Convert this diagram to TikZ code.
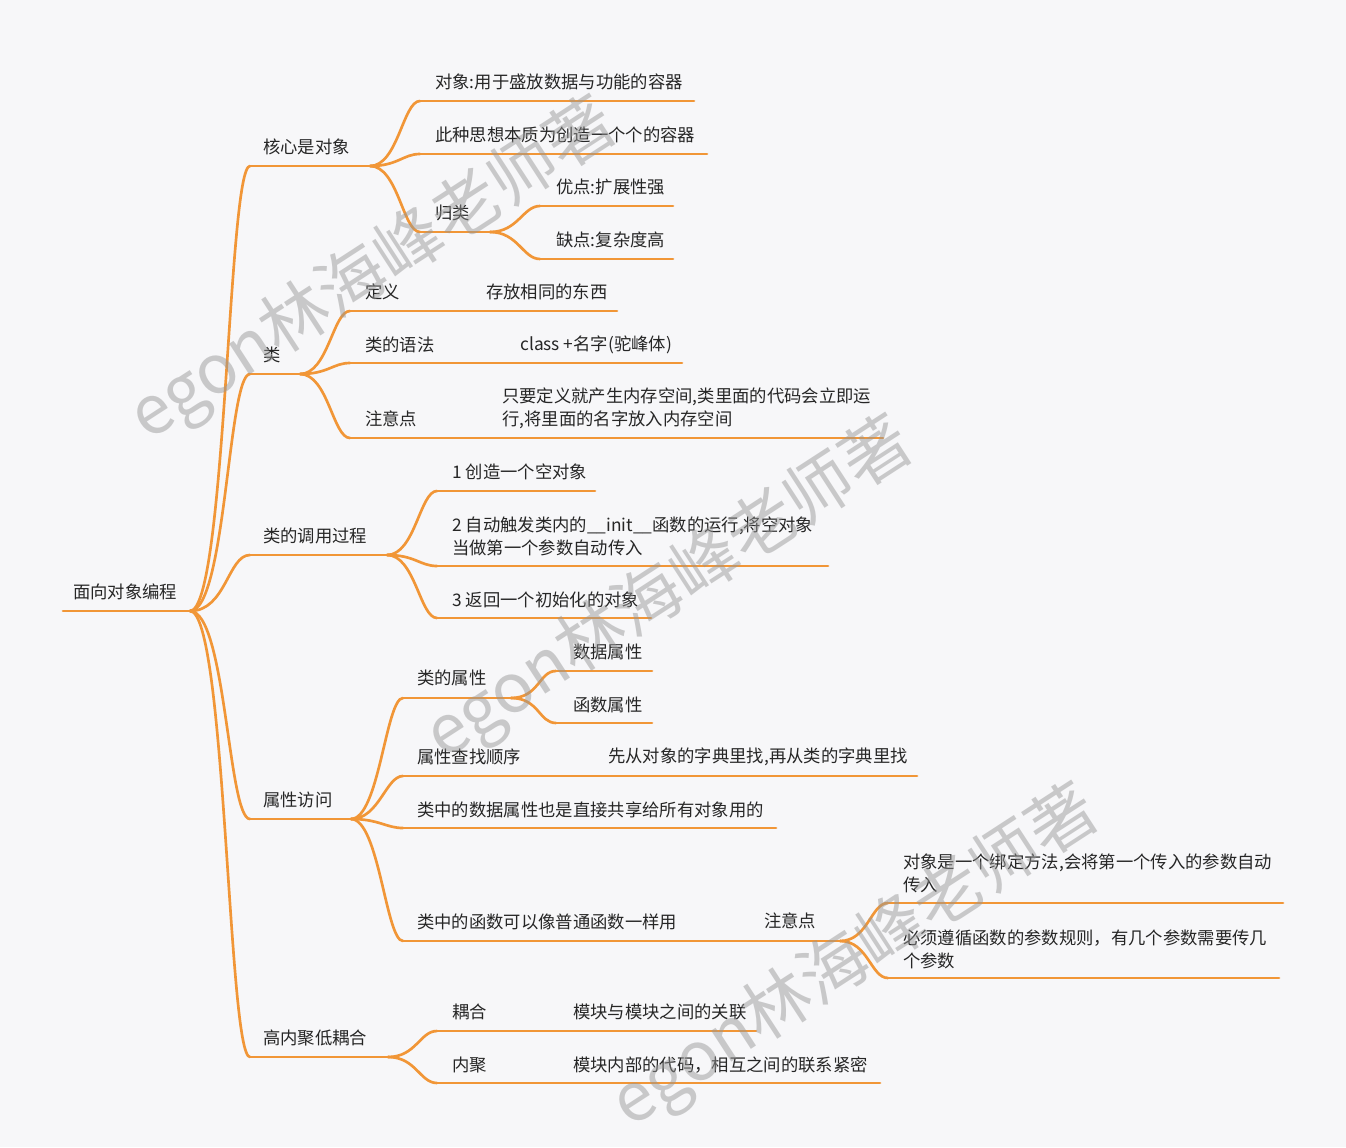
\documentclass[tikz,border=0pt]{standalone}
\usepackage{fontspec}
\setmainfont{Noto Sans CJK SC}
\definecolor{bg}{RGB}{247,247,249}
\definecolor{ln}{RGB}{241,150,55}
\definecolor{tx}{RGB}{38,38,38}
\definecolor{wm}{RGB}{150,150,150}
\newcommand\mmA[2]{\draw[line] (#1) .. controls +(36,0) and +(-22,0) .. (#2);}
\newcommand\mmB[2]{\draw[line] (#1) .. controls +(28,0) and +(-17,0) .. (#2);}
\begin{document}
\begin{tikzpicture}[x=0.75pt,y=-0.75pt,
  line/.style={draw=ln,line width=2pt,line cap=round},
  txt/.style={anchor=west,inner sep=0pt,text=tx,font=\fontsize{13}{17.25}\selectfont,align=left},
  wmark/.style={text=wm,opacity=0.48,font=\fontsize{51}{51}\selectfont,rotate=33,inner sep=0pt}]
\fill[bg] (0,0) rectangle (1346,1147);
\useasboundingbox (0,0) rectangle (1346,1147);

% root
\coordinate (R-s) at (63,611); \coordinate (R-e) at (190,611);
\node[txt] (R) at (73,592) {面向对象编程};
\draw[line] (R-s) -- (R-e);

% level 1
\coordinate (A-s) at (250,166); \coordinate (A-e) at (370,166);
\coordinate (B-s) at (250,374); \coordinate (B-e) at (300,374);
\coordinate (C-s) at (250,555); \coordinate (C-e) at (387,555);
\coordinate (D-s) at (250,819); \coordinate (D-e) at (351,819);
\coordinate (E-s) at (250,1057); \coordinate (E-e) at (388,1057);
\node[txt] (A) at (263,147) {核心是对象};
\node[txt] (B) at (263,355) {类};
\node[txt] (C) at (263,536) {类的调用过程};
\node[txt] (D) at (263,800) {属性访问};
\node[txt] (E) at (263,1038) {高内聚低耦合};
\foreach \n in {A,B,C,D,E}{\mmA{R-e}{\n-s}\draw[line] (\n-s) -- (\n-e);}

% A children
\coordinate (A1-s) at (420,101); \coordinate (A1-e) at (694,101);
\coordinate (A2-s) at (420,154); \coordinate (A2-e) at (707,154);
\coordinate (A3-s) at (420,232); \coordinate (A3-e) at (490,232);
\coordinate (A31-s) at (540,206); \coordinate (A31-e) at (673,206);
\coordinate (A32-s) at (540,259); \coordinate (A32-e) at (673,259);
\node[txt] (A1) at (435,82) {对象:用于盛放数据与功能的容器};
\node[txt] (A2) at (435,135) {此种思想本质为创造一个个的容器};
\node[txt] (A3) at (435,213) {归类};
\node[txt] (A31) at (556,187) {优点:扩展性强};
\node[txt] (A32) at (556,240) {缺点:复杂度高};
\foreach \n in {A1,A2,A3}{\mmB{A-e}{\n-s}\draw[line] (\n-s) -- (\n-e);}
\foreach \n in {A31,A32}{\mmB{A3-e}{\n-s}\draw[line] (\n-s) -- (\n-e);}

% B children
\coordinate (B1-s) at (350,311); \coordinate (B1-e) at (470,311);
\coordinate (B1a-s) at (470,311); \coordinate (B1a-e) at (617,311);
\coordinate (B2-s) at (350,363); \coordinate (B2-e) at (505,363);
\coordinate (B2a-s) at (505,363); \coordinate (B2a-e) at (682,363);
\coordinate (B3-s) at (350,438); \coordinate (B3-e) at (487,438);
\coordinate (B3a-s) at (487,438); \coordinate (B3a-e) at (883,438);
\node[txt] (B1) at (365,292) {定义};
\node[txt] (B1a) at (486,292) {存放相同的东西};
\node[txt] (B2) at (365,345) {类的语法};
\node[txt] (B2a) at (520,345) {class +名字(驼峰体)};
\node[txt] (B3) at (365,419) {注意点};
\node[txt] (B3a) at (502,408) {只要定义就产生内存空间,类里面的代码会立即运\\行,将里面的名字放入内存空间};
\foreach \n in {B1,B2,B3}{\mmB{B-e}{\n-s}\draw[line] (\n-s) -- (\n-e) -- (\n a-s) -- (\n a-e);}

% C children
\coordinate (C1-s) at (437,491); \coordinate (C1-e) at (595,491);
\coordinate (C2-s) at (437,566); \coordinate (C2-e) at (828,566);
\coordinate (C3-s) at (437,618); \coordinate (C3-e) at (651,618);
\node[txt] (C1) at (452,472) {1 创造一个空对象};
\node[txt] (C2) at (452,536) {2 自动触发类内的\_\_init\_\_函数的运行,将空对象\\当做第一个参数自动传入};
\node[txt] (C3) at (452,600) {3 返回一个初始化的对象};
\foreach \n in {C1,C2,C3}{\mmB{C-e}{\n-s}\draw[line] (\n-s) -- (\n-e);}

% D children
\coordinate (D1-s) at (403,698); \coordinate (D1-e) at (511,698);
\coordinate (D11-s) at (556,671); \coordinate (D11-e) at (652,671);
\coordinate (D12-s) at (556,723); \coordinate (D12-e) at (652,723);
\coordinate (D2-s) at (403,776); \coordinate (D2-e) at (592,776);
\coordinate (D2a-s) at (592,776); \coordinate (D2a-e) at (917,776);
\coordinate (D3-s) at (403,828); \coordinate (D3-e) at (776,828);
\coordinate (D4-s) at (403,941); \coordinate (D4-e) at (748,941);
\coordinate (D4a-s) at (748,941); \coordinate (D4a-e) at (840,941);
\coordinate (D4a1-s) at (888,903); \coordinate (D4a1-e) at (1283,903);
\coordinate (D4a2-s) at (888,978); \coordinate (D4a2-e) at (1279,978);
\node[txt] (D1) at (417,678) {类的属性};
\node[txt] (D11) at (573,652) {数据属性};
\node[txt] (D12) at (573,705) {函数属性};
\node[txt] (D2) at (417,757) {属性查找顺序};
\node[txt] (D2a) at (608,757) {先从对象的字典里找,再从类的字典里找};
\node[txt] (D3) at (417,810) {类中的数据属性也是直接共享给所有对象用的};
\node[txt] (D4) at (417,922) {类中的函数可以像普通函数一样用};
\node[txt] (D4a) at (764,921) {注意点};
\node[txt] (D4a1) at (903,873.5) {对象是一个绑定方法,会将第一个传入的参数自动\\传入};
\node[txt] (D4a2) at (903,949.5) {必须遵循函数的参数规则，有几个参数需要传几\\个参数};
\foreach \n in {D1,D2,D3,D4}{\mmB{D-e}{\n-s}\draw[line] (\n-s) -- (\n-e);}
\foreach \n in {D11,D12}{\mmB{D1-e}{\n-s}\draw[line] (\n-s) -- (\n-e);}
\draw[line] (D2-e) -- (D2a-s) -- (D2a-e);
\draw[line] (D4-e) -- (D4a-s) -- (D4a-e);
\foreach \n in {D4a1,D4a2}{\mmB{D4a-e}{\n-s}\draw[line] (\n-s) -- (\n-e);}

% E children
\coordinate (E1-s) at (437,1031); \coordinate (E1-e) at (557,1031);
\coordinate (E1a-s) at (557,1031); \coordinate (E1a-e) at (756,1031);
\coordinate (E2-s) at (437,1083); \coordinate (E2-e) at (557,1083);
\coordinate (E2a-s) at (557,1083); \coordinate (E2a-e) at (880,1083);
\node[txt] (E1) at (452,1012) {耦合};
\node[txt] (E1a) at (573,1012) {模块与模块之间的关联};
\node[txt] (E2) at (452,1065) {内聚};
\node[txt] (E2a) at (573,1065) {模块内部的代码，相互之间的联系紧密};
\foreach \n in {E1,E2}{\mmB{E-e}{\n-s}\draw[line] (\n-s) -- (\n-e) -- (\n a-s) -- (\n a-e);}

% watermarks
\node[wmark] (W1) at (374,271) {egon林海峰老师著};
\node[wmark] (W2) at (670,590) {egon林海峰老师著};
\node[wmark] (W3) at (856,958) {egon林海峰老师著};
\end{tikzpicture}
\end{document}
